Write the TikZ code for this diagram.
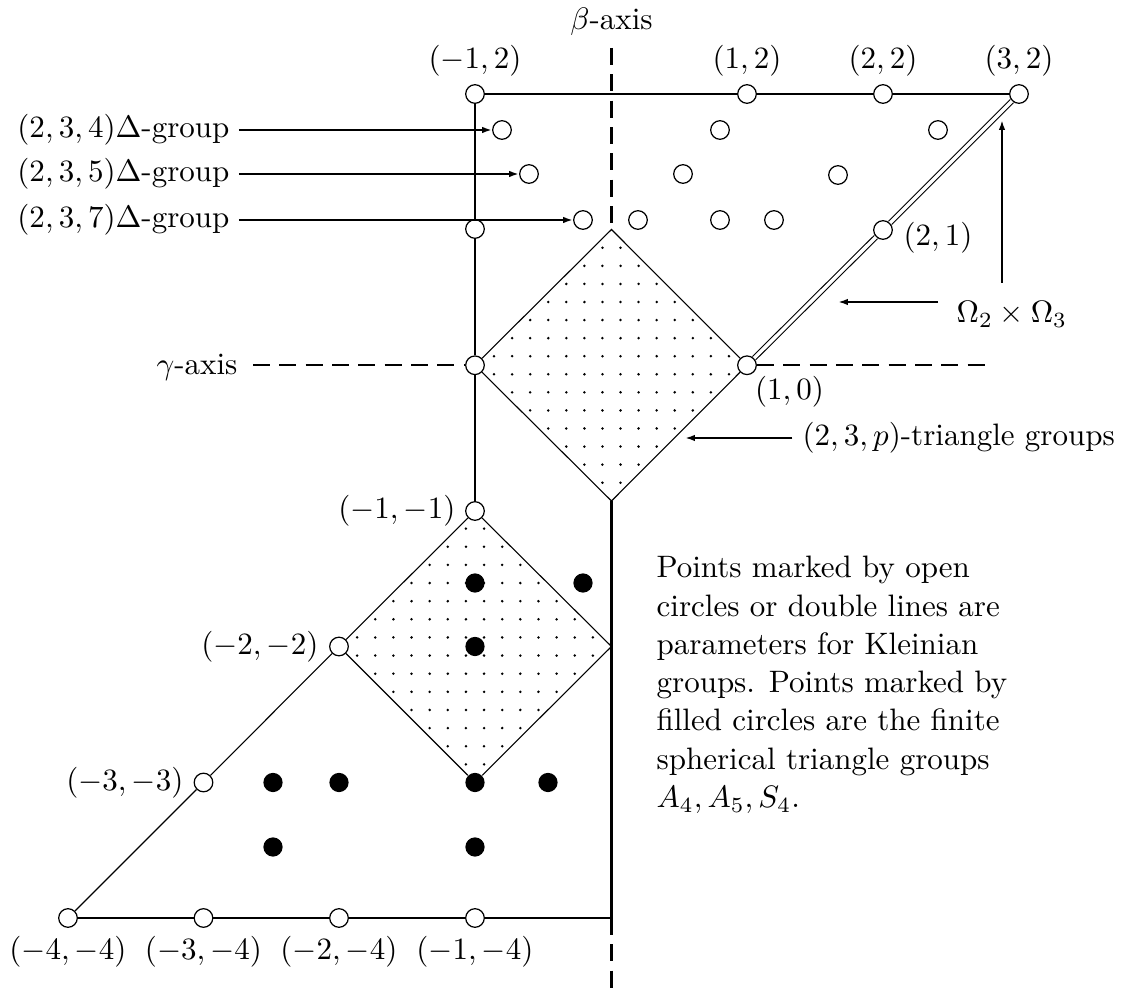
\documentclass[tikz,border=0pt]{standalone}
\usetikzlibrary{arrows.meta}
\begin{document}
\begin{tikzpicture}[x=0.3226pt,y=-0.3226pt,
  opn/.style={circle,draw,fill=white,line width=0.4pt,inner sep=0pt,minimum size=6pt},
  fil/.style={circle,fill=black,inner sep=0pt,minimum size=6.2pt},
  lbl/.style={inner sep=0pt},
  thk/.style={line width=0.65pt},
  thn/.style={line width=0.35pt},
  axisline/.style={line width=0.65pt,dash pattern=on 5.5pt off 3pt},
  arr/.style={line width=0.65pt,-{Latex[length=3.2pt,width=2.1pt]}},
  dbl/.style={line width=0.35pt,double distance=1.1pt},
  dotfill/.style={fill=black}
]
\useasboundingbox (0,0) rectangle (1129,990);

% dotted regions
\begin{scope}
  \clip (611.5,229.5) -- (747,365.25) -- (611.5,501) -- (475,365.25) -- cycle;
  \foreach \i in {-8,...,7} \foreach \j in {-8,...,7}
    \fill[dotfill] (611.5+9.03+18.067*\i, 365.25+9.03+18.067*\j) circle[radius=0.45pt];
\end{scope}
\begin{scope}
  \clip (475,510.5) -- (611.5,646.5) -- (475,782.5) -- (339,646.5) -- cycle;
  \foreach \i in {-8,...,7} \foreach \j in {-8,...,7}
    \fill[dotfill] (475+9.07+18.133*\i, 646.5+9.07+18.133*\j) circle[radius=0.45pt];
\end{scope}

% open circles (upper part)
\node[opn] (m12) at (475,94) {};
\node[opn] (p12) at (747,94) {};
\node[opn] (p22) at (883,94) {};
\node[opn] (p32) at (1019,94) {};
\node[opn] (a1) at (502,130) {};
\node[opn] (a2) at (720,130) {};
\node[opn] (a3) at (938,130) {};
\node[opn] (b1) at (529,174) {};
\node[opn] (b2) at (683,174) {};
\node[opn] (b3) at (838,175) {};
\node[opn] (c1) at (583,220) {};
\node[opn] (c2) at (638,220) {};
\node[opn] (c3) at (720,220) {};
\node[opn] (c4) at (774,220) {};
\node[opn] (m11) at (475,229) {};
\node[opn] (p21) at (883,230) {};
\node[opn] (m10) at (475,365.25) {};
\node[opn] (p10) at (747,365.25) {};
\coordinate (dtop) at (611.5,229.5);
\coordinate (dbot) at (611.5,501);

% lower part
\node[opn] (mm11) at (475,511) {};
\node[opn] (mm22) at (339,646.5) {};
\coordinate (lr) at (611.5,646.5);
\node[fil] (lb) at (475,782.5) {};
\node[opn] (mm33) at (203.5,782.5) {};
\node[opn] (mm44) at (68,918) {};
\node[opn] (mm34) at (203.5,918) {};
\node[opn] (mm24) at (339,918) {};
\node[opn] (mm14) at (475,918) {};
\coordinate (be) at (611.5,918);

\node[fil] (f1) at (475,583) {};
\node[fil] (f2) at (583,583) {};
\node[fil] (f3) at (475,646.5) {};
\node[fil] (f4) at (273,782.5) {};
\node[fil] (f5) at (339,782.5) {};
\node[fil] (f6) at (548,782.5) {};
\node[fil] (f7) at (273,847) {};
\node[fil] (f8) at (475,847) {};

% axis end points
\coordinate (btop) at (611.5,48);
\coordinate (bbot) at (611.5,990);
\coordinate (gl) at (253,365.25);
\coordinate (gr) at (992,365.25);

% thick lines
\draw[thk] (m12) -- (p12) (p12) -- (p22) (p22) -- (p32);
\draw[thk] (m12) -- (m11) (m11) -- (m10) (m10) -- (mm11);
\draw[thk] (dbot) -- (be);
\draw[thk] (mm44) -- (mm34) (mm34) -- (mm24) (mm24) -- (mm14) (mm14) -- (be);

% double line
\draw[dbl] (p32) -- (p21) (p21) -- (p10);

% thin lines
\draw[thn] (m10) -- (dtop) -- (p10) (p10) -- (dbot) -- (m10);
\draw[thn] (mm44) -- (mm33) (mm33) -- (mm22);
\draw[thn] (mm22) -- (mm11) (mm11) -- (lr) -- (lb) (lb) -- (mm22);

% axes
\draw[axisline] (btop) -- (dtop);
\draw[axisline] (be) -- (bbot);
\draw[axisline] (gl) -- (m10);
\draw[axisline] (p10) -- (gr);

% labels
\node[lbl, anchor=base] (lbeta) at (611.5,30) {$\beta$-axis};
\node[lbl, anchor=base east] (lgamma) at (238,375) {$\gamma$-axis};
\node[lbl] (t1) at (475,61) {$(-1,2)$};
\node[lbl] (t2) at (747,61) {$(1,2)$};
\node[lbl] (t3) at (883,61) {$(2,2)$};
\node[lbl] (t4) at (1019,61) {$(3,2)$};
\node[lbl, anchor=west] (l21) at (903,238) {$(2,1)$};
\node[lbl] (l10) at (789.5,392) {$(1,0)$};
\node[lbl, anchor=east] (lm11) at (456,511) {$(-1,-1)$};
\node[lbl, anchor=east] (lm22) at (319,646.5) {$(-2,-2)$};
\node[lbl, anchor=east] (lm33) at (184,782.5) {$(-3,-3)$};
\node[lbl] (lm44) at (68,952) {$(-4,-4)$};
\node[lbl] (lm34) at (203.5,952) {$(-3,-4)$};
\node[lbl] (lm24) at (339,952) {$(-2,-4)$};
\node[lbl] (lm14) at (475,952) {$(-1,-4)$};

\node[lbl, anchor=east] (L4) at (230,130) {$(2,3,4)\Delta$-group};
\node[lbl, anchor=east] (L5) at (230,174) {$(2,3,5)\Delta$-group};
\node[lbl, anchor=east] (L7) at (230,220) {$(2,3,7)\Delta$-group};
\draw[arr, shorten <=2.9pt] (L4) -- (a1);
\draw[arr, shorten <=2.9pt] (L5) -- (b1);
\draw[arr, shorten <=2.9pt] (L7) -- (c1);

\node[lbl, anchor=base west] (Lom) at (956,323) {$\Omega_2\times\Omega_3$};
\coordinate (ov0) at (1002,283);
\coordinate (ov1) at (1002,120);
\coordinate (oh0) at (938,302);
\coordinate (oh1) at (838,302);
\draw[arr] (ov0) -- (ov1);
\draw[arr] (oh0) -- (oh1);

\node[lbl, anchor=west] (Lp) at (802,438) {$(2,3,p)$-triangle groups};
\coordinate (tp1) at (685,438);
\draw[arr, shorten <=3.1pt] (Lp) -- (tp1);

\node[lbl, anchor=north west, align=left, font=\fontsize{10}{12.35}\selectfont] (txt) at (656,555.6)
  {Points marked by open\\ circles or double lines are\\ parameters for Kleinian\\ groups. Points marked by\\ filled circles are the finite\\ spherical triangle groups\\ $A_4, A_5, S_4$.};
\end{tikzpicture}
\end{document}
